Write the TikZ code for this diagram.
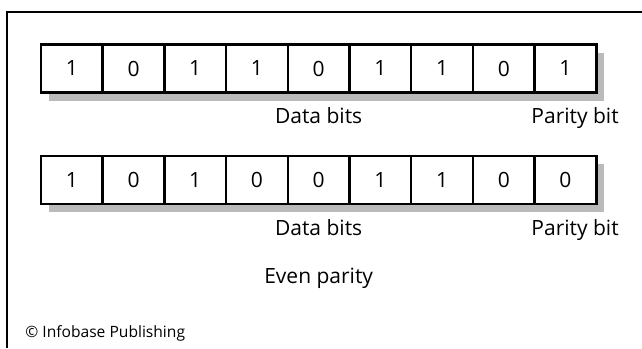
\documentclass[tikz,border=0pt]{standalone}
\usepackage{fontspec}
\setmainfont{Open Sans}
\usetikzlibrary{positioning}
\pgfdeclarelayer{background}
\pgfsetlayers{background,main}

\begin{document}
\begin{tikzpicture}[x=0.5pt, y=-0.5pt,
	every node/.style={font=\fontsize{10.5}{12}\selectfont},
	bitcell/.style={draw, fill=white, line width=1.25pt, minimum width=30.85pt, minimum height=24pt, inner sep=0pt, outer sep=0pt},
	lbl/.style={inner sep=0pt},
	shadowgray/.style={fill=black!27}]
	\useasboundingbox (0,0) rectangle (642,348);
	\draw[line width=1.25pt] (7,348) -- (7,12) -- (642,12);
	% sent word and received word
	\foreach \b [count=\i] in {1,0,1,1,0,1,1,0,1}
		\node[bitcell] (r1c\i) at (10.15+61.7*\i, 68.5) {\b};
	\foreach \b [count=\i] in {1,0,1,0,0,1,1,0,0}
		\node[bitcell] (r2c\i) at (10.15+61.7*\i, 180) {\b};
	\begin{pgfonlayer}{background}
		\fill[shadowgray] ([shift={(8,8)}]r1c1.north west) rectangle ([shift={(8,8)}]r1c9.south east);
		\fill[shadowgray] ([shift={(8,8)}]r2c1.north west) rectangle ([shift={(8,8)}]r2c9.south east);
	\end{pgfonlayer}
	\node[lbl, below=7.5pt of r1c5] (data1) {Data bits};
	\node[lbl, below=7.5pt of r1c9, xshift=4.8pt] (parity1) {Parity bit};
	\node[lbl, below=7.5pt of r2c5] (data2) {Data bits};
	\node[lbl, below=7.5pt of r2c9, xshift=4.8pt] (parity2) {Parity bit};
	\node[lbl, below=16pt of data2] (even) {Even parity};
	\node[lbl, anchor=west, font=\fontsize{7.8}{9}\selectfont] (credit) at (25,333) {© Infobase Publishing};
\end{tikzpicture}
\end{document}
